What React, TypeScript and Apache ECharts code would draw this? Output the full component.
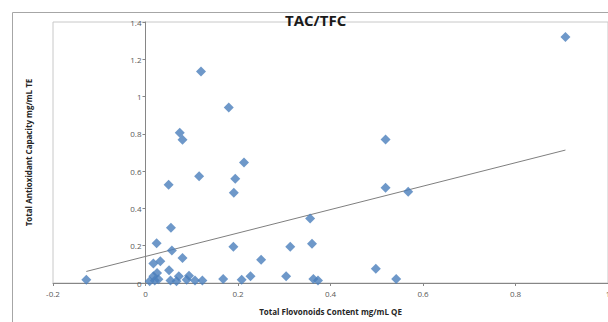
import React, { useEffect, useRef } from "react";
import * as echarts from "echarts";

const titleText = "TAC/TFC";
const xAxisTitle = "Total Flovonoids Content mg/mL QE";
const yAxisTitle = "Total Antioxidant Capacity mg/mL TE";

// Total flavonoids content (mg/mL QE)
const tfcValues = [
  -0.128, 0.009, 0.017, 0.02, 0.028, 0.017, 0.032, 0.025, 0.024, 0.05, 0.055,
  0.057, 0.051, 0.054, 0.067, 0.072, 0.08, 0.089, 0.094, 0.107, 0.123, 0.116,
  0.12, 0.074, 0.08, 0.168, 0.18, 0.19, 0.191, 0.194, 0.208, 0.213, 0.227,
  0.25, 0.304, 0.313, 0.356, 0.36, 0.363, 0.373, 0.498, 0.519, 0.519, 0.542,
  0.568, 0.908,
];
// Total antioxidant capacity (mg/mL TE)
const tacValues = [
  0.018, 0.009, 0.036, 0.014, 0.02, 0.104, 0.116, 0.054, 0.213, 0.527, 0.296,
  0.175, 0.068, 0.014, 0.009, 0.036, 0.134, 0.018, 0.039, 0.014, 0.014, 0.573,
  1.134, 0.806, 0.769, 0.021, 0.942, 0.194, 0.484, 0.559, 0.018, 0.647, 0.036,
  0.125, 0.036, 0.194, 0.346, 0.211, 0.021, 0.014, 0.077, 0.511, 0.77, 0.021,
  0.489, 1.319,
];
// Linear trendline end points (x, y)
const trendX = [-0.128, 0.908];
const trendY = [0.062, 0.713];

const xTicks = { min: -0.2, max: 1.0, interval: 0.2 };
const yTicks = { min: 0, max: 1.4, interval: 0.2 };

const FONT = "'Open Sans', 'Noto Sans', sans-serif";

export default function App() {
  const ref = useRef<HTMLDivElement>(null);
  useEffect(() => {
    if (!ref.current) return;
    const chart = echarts.init(ref.current, undefined, { renderer: "svg" });
    const points = tfcValues.map((x, i) => [x, tacValues[i]]);
    const trend = trendX.map((x, i) => [x, trendY[i]]);
    const gridLeft = 53;
    const gridWidth = 608 - gridLeft;
    // shift the y axis onto x = 0
    const zeroOffset = ((0 - xTicks.min) / (xTicks.max - xTicks.min)) * gridWidth;
    chart.setOption({
      animation: false,
      backgroundColor: "#ffffff",
      title: {
        text: titleText,
        left: 285,
        top: 12,
        textStyle: {
          fontFamily: FONT,
          fontWeight: "bold",
          fontSize: 15,
          color: "#1a1a1a",
        },
        padding: 0,
      },
      graphic: [
        {
          type: "rect",
          silent: true,
          z: 0,
          shape: { x: 12.5, y: 12.5, width: 640, height: 340 },
          style: { fill: "none", stroke: "#a6a6a6", lineWidth: 1 },
        },
      ],
      grid: {
        left: gridLeft,
        top: 22,
        right: 0,
        bottom: 39,
        containLabel: false,
        outerBoundsMode: "none",
        show: true,
        borderColor: "#c8c8c8",
        borderWidth: 1,
        backgroundColor: "transparent",
      },
      xAxis: {
        type: "value",
        min: xTicks.min,
        max: xTicks.max,
        interval: xTicks.interval,
        name: xAxisTitle,
        nameLocation: "middle",
        nameGap: 24,
        nameTextStyle: {
          fontFamily: FONT,
          fontWeight: "bold",
          fontSize: 8,
          color: "#262626",
        },
        axisLine: { show: true, onZero: false, lineStyle: { color: "#868686", width: 1 } },
        axisTick: { show: true, length: 3, lineStyle: { color: "#868686" } },
        axisLabel: {
          fontFamily: FONT,
          fontSize: 8,
          color: "#595959",
          margin: 6,
          formatter: (v: number) => String(Math.round(v * 10) / 10),
        },
        splitLine: { show: false },
      },
      yAxis: {
        type: "value",
        min: yTicks.min,
        max: yTicks.max,
        interval: yTicks.interval,
        offset: -zeroOffset,
        name: yAxisTitle,
        nameLocation: "middle",
        nameGap: 113,
        nameRotate: 90,
        nameTextStyle: {
          fontFamily: FONT,
          fontWeight: "bold",
          fontSize: 8,
          color: "#262626",
        },
        axisLine: { show: true, onZero: false, lineStyle: { color: "#868686", width: 1 } },
        axisTick: { show: true, length: 3, lineStyle: { color: "#868686" } },
        axisLabel: {
          fontFamily: FONT,
          fontSize: 8,
          color: "#595959",
          margin: 4,
          formatter: (v: number) => String(Math.round(v * 10) / 10),
        },
        splitLine: { show: false },
      },
      series: [
        {
          type: "line",
          data: trend,
          symbol: "none",
          lineStyle: { color: "#7f7f7f", width: 1 },
          z: 1,
          silent: true,
        },
        {
          type: "scatter",
          data: points,
          symbol: "diamond",
          symbolSize: 10,
          itemStyle: { color: "#4a7ebb" },
          z: 2,
        },
      ],
    });
    return () => chart.dispose();
  }, []);
  return (
    <div
      ref={ref}
      style={{ position: "fixed", left: 0, top: 0, width: 608, height: 322 }}
    />
  );
}
